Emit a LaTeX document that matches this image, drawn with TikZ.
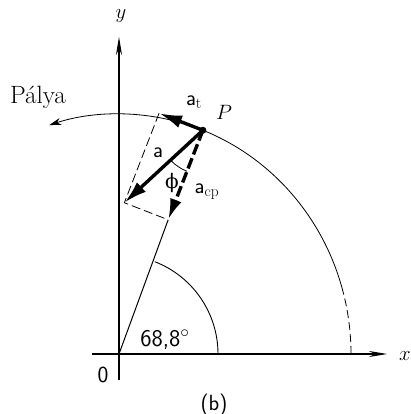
\documentclass[tikz,border=0pt]{standalone}
\usepackage{fontspec}
\newfontfamily\grkfont{DejaVu Serif}
\usetikzlibrary{arrows.meta,calc}
\begin{document}
\begin{tikzpicture}[x=1pt,y=1pt,
  axis/.style={line width=1.1pt,-{Stealth[length=18pt,width=6pt]}},
  orbit/.style={line width=0.8pt},
  vec/.style={line width=3.4pt,-{Latex[length=23pt,width=13pt]}},
  vecd/.style={line width=3.4pt,dash pattern=on 11pt off 4pt,-{Latex[length=21pt,width=12pt]}},
  aux/.style={line width=0.8pt,dash pattern=on 9pt off 4pt},
  lbl/.style={font=\fontsize{22}{22}\selectfont\sffamily},
  mlbl/.style={font=\fontsize{22}{22}\selectfont}]
\useasboundingbox (-119,-60) rectangle (292,354);
\fill[white] (-119,-60) rectangle (292,354);
% points
\coordinate (O) at (0,0);
\coordinate (P) at (68.8:232 and 240);
\coordinate (AT) at ($(P)+(158.8:47)$);
\coordinate (ACP) at ($(P)+(248.8:96)$);
\coordinate (A) at ($(AT)+(ACP)-(P)$);
\coordinate (Xs) at (-27,0);
\coordinate (Xe) at (268,0);
\coordinate (Ys) at (0,-26);
\coordinate (Ye) at (0,317);
% axes
\draw[axis] (Xs) -- (Xe);
\draw[axis] (Ys) -- (Ye);
% orbit
\draw[orbit,dash pattern=on 8pt off 4pt] (0:232 and 240) arc[start angle=0,end angle=15.5,x radius=232,y radius=240];
\draw[orbit,-{Stealth[length=12pt,width=7pt]}] (15.5:232 and 240) arc[start angle=15.5,end angle=107.5,x radius=232,y radius=240];
% radius line
\draw[line width=1pt] (O) -- (ACP);
% angle arc
\draw[line width=0.9pt] (99,0) arc[start angle=0,end angle=68.8,radius=99];
% parallelogram
\draw[aux] (AT) -- (A) -- (ACP);
% phi arc
\draw[line width=0.8pt] ($(P)+(224:44)$) arc[start angle=224,end angle=248.8,radius=44];
% vectors
\draw[vec] (P) -- (AT);
\draw[vec] (P) -- (A);
\draw[vecd] (P) -- (ACP);
\fill (P) circle[radius=3.5];
% labels
\node[mlbl] (ly) at (2,338) {$y$};
\node[mlbl] (lx) at (286,-2) {$x$};
\node[font=\fontsize{23}{23}\selectfont\sffamily] (lo) at (-16,-21) {0};
\node[lbl] (lb) at (95,-51) {(b)};
\node[font=\fontsize{24}{24}\selectfont\sffamily] (lang) at (46,14) {68,8$^\circ$};
\node[font=\fontsize{25}{25}\selectfont] (lpalya) at (-81,257) {Pálya};
\node[lbl] (lat) at (75,252) {a$_{\mathrm{t}}$};
\node[mlbl] (lp) at (105,242) {$P$};
\node[lbl] (la) at (39,201) {a};
\node[font=\fontsize{20}{20}\selectfont\grkfont] (lphi) at (53,171) {ϕ};
\node[lbl] (lacp) at (88,162) {a$_{\mathrm{cp}}$};
\end{tikzpicture}
\end{document}
